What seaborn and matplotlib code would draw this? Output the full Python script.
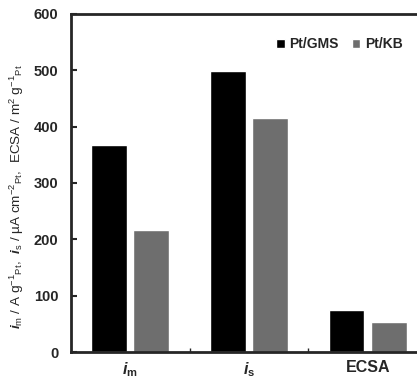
import seaborn as sns
import matplotlib.pyplot as plt
import pandas as pd

# data
categories = ["im", "is", "ECSA"]
pt_gms = [367, 499, 75]
pt_kb = [217, 415, 53]
series = ["Pt/GMS", "Pt/KB"]
tick_labels = [r"$i$$_\mathrm{m}$", r"$i$$_\mathrm{s}$", "ECSA"]

dane = pd.DataFrame({
    "kat": categories * 2,
    "val": pt_gms + pt_kb,
    "cat": [series[0]] * 3 + [series[1]] * 3,
})

sns.set_style("ticks")
plt.rcParams["font.family"] = ["Liberation Sans", "DejaVu Sans"]
plt.rcParams["mathtext.fontset"] = "custom"
plt.rcParams["mathtext.it"] = "Liberation Sans:italic:bold"
plt.rcParams["mathtext.rm"] = "Liberation Sans:bold"
plt.rcParams["mathtext.bf"] = "Liberation Sans:bold"

fig = plt.figure(figsize=(4.17, 3.82), dpi=100)
ax = fig.add_axes([0.170, 0.0785, 0.854, 0.885])

sns.barplot(data=dane, x="kat", y="val", hue="cat", ax=ax,
            palette=["#000000", "#6e6e6e"], width=0.71, gap=0.15,
            saturation=1)

ax.set_xlim(-0.5, 2.5)
ax.set_ylim(0, 600)
ax.set_yticks(range(0, 601, 100))
ax.set_xticks(range(3))
ax.set_xticklabels(tick_labels, fontsize=11.5, fontweight="bold")
ax.set_xticks([0.5, 1.5], minor=True)
ax.tick_params(axis="x", which="major", length=0, pad=6)
ax.tick_params(axis="x", which="minor", direction="in", length=3, width=1)
ax.tick_params(axis="y", direction="in", length=4, width=1.5, labelsize=10.5, pad=9)
for t in ax.get_yticklabels():
    t.set_fontweight("bold")
ax.set_xlabel("")
ax.set_ylabel(r"$i$$_\mathregular{m}$ / A g$^\mathregular{-1}$$_\mathregular{Pt}$,  "
              r"$i$$_\mathregular{s}$ / µA cm$^\mathregular{-2}$$_\mathregular{Pt}$,  "
              r"ECSA / m$^\mathregular{2}$ g$^\mathregular{-1}$$_\mathregular{Pt}$",
              fontsize=9.7)
ax.yaxis.set_label_coords(-0.125, 0.46)

for s in ["left", "bottom", "top", "right"]:
    ax.spines[s].set_visible(True)
    ax.spines[s].set_linewidth(2)

ax.legend(loc="upper right", bbox_to_anchor=(0.995, 0.935),
          bbox_transform=fig.transFigure, ncol=2, frameon=False,
          handlelength=0.6, handleheight=0.6, handletextpad=0.3,
          columnspacing=1.0, prop={"weight": "bold", "size": 10})

plt.savefig("out.png", dpi=100)
